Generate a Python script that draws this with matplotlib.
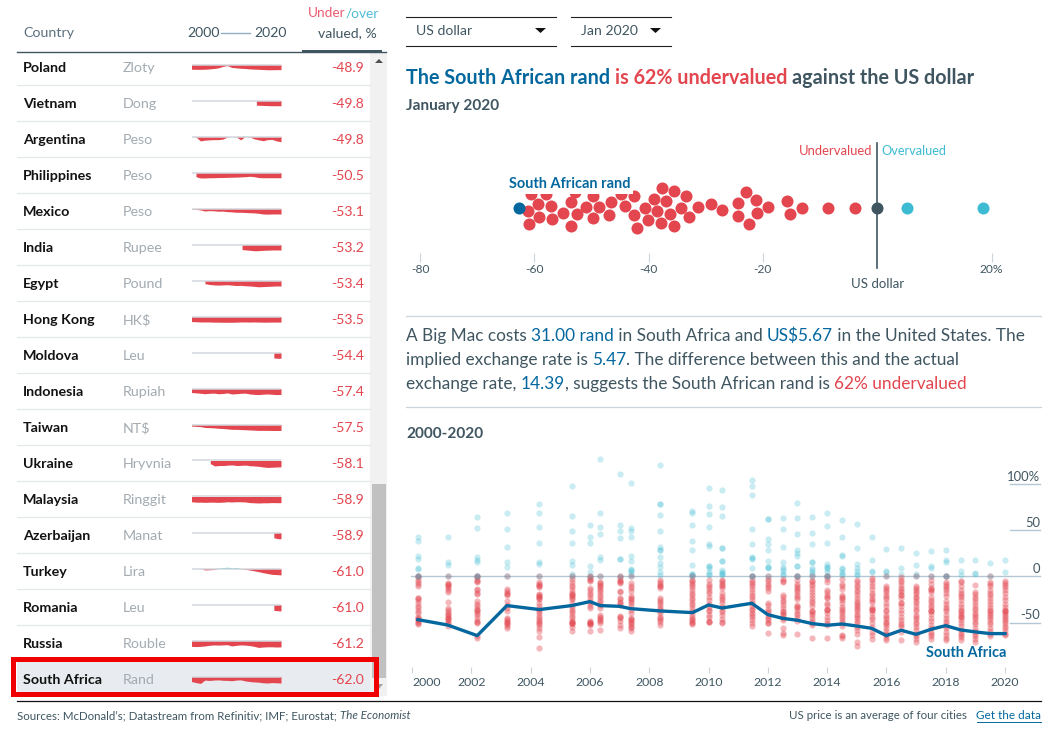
import numpy as np
import matplotlib
matplotlib.use("Agg")
import matplotlib.pyplot as plt
from matplotlib.patches import Rectangle, Polygon

plt.rcParams['font.family'] = ['Lato', 'DejaVu Sans']

RED = '#e3464f'
CYAN = '#3dbbd3'
BLUE = '#04689f'
DARK = '#3f5661'
GREY = '#a3abb1'
RULE = '#e4e8eb'

# table
countries = ['Poland', 'Vietnam', 'Argentina', 'Philippines', 'Mexico', 'India', 'Egypt', 'Hong Kong', 'Moldova',
             'Indonesia', 'Taiwan', 'Ukraine', 'Malaysia', 'Azerbaijan', 'Turkey', 'Romania', 'Russia', 'South Africa']
currencies = ['Zloty', 'Dong', 'Peso', 'Peso', 'Peso', 'Rupee', 'Pound', 'HK$', 'Leu',
              'Rupiah', 'NT$', 'Hryvnia', 'Ringgit', 'Manat', 'Lira', 'Leu', 'Rouble', 'Rand']
valuations = [-48.9, -49.8, -49.8, -50.5, -53.1, -53.2, -53.4, -53.5, -54.4,
              -57.4, -57.5, -58.1, -58.9, -58.9, -61.0, -61.0, -61.2, -62.0]

# first year of each small chart, then its values
spark_start = [2000, 2014.5, 2000, 2001, 2000, 2011.3, 2003, 2000, 2018.4,
               2000, 2000, 2004.2, 2000, 2018.4, 2000, 2018.4, 2000, 2000]
spark_values = [
    [-45, -46, -46, -45, -42, -38, -32, -18, -10, -28, -32, -36, -38, -42, -44, -46, -48, -50, -50, -49, -49],
    [-44, -46, -46, -48, -48, -50, -50, -50, -50, -50],
    [0, -5, -42, -35, -32, -30, -30, -25, -5, 0, -4, -32, 4, -5, -22, -32, -40, -30, -28, -42, -50],
    [-40, -52, -52, -50, -50, -48, -48, -46, -45, -44, -42, -40, -36, -40, -48, -50, -50, -50, -50, -50],
    [-5, -8, -14, -24, -20, -22, -26, -25, -30, -32, -36, -36, -38, -40, -42, -46, -52, -54, -52, -52, -53],
    [-48, -52, -56, -60, -58, -55, -54, -52, -52, -53],
    [-30, -38, -42, -44, -42, -40, -44, -48, -46, -50, -52, -56, -60, -58, -56, -54, -52, -53],
    [-48, -50, -52, -52, -52, -54, -54, -55, -55, -55, -54, -52, -52, -53, -52, -53, -54, -54, -53, -53, -53],
    [-52, -54, -55, -54],
    [-38, -42, -45, -50, -46, -44, -50, -48, -42, -52, -50, -46, -44, -52, -56, -58, -54, -52, -55, -58, -57],
    [-15, -18, -20, -28, -30, -32, -36, -38, -42, -46, -46, -48, -50, -52, -54, -56, -56, -56, -57, -57, -57],
    [-30, -52, -48, -48, -44, -42, -48, -46, -44, -50, -52, -56, -62, -66, -64, -62, -60],
    [-50, -54, -54, -56, -54, -54, -56, -54, -50, -52, -50, -50, -52, -58, -60, -62, -60, -60, -58, -59, -59],
    [-50, -55, -60, -59],
    [0, 0, 0, -14, -12, -10, 4, 8, 12, 6, 10, -3, -8, -14, -22, -30, -40, -48, -56, -58, -61],
    [-56, -58, -60, -61],
    [-56, -58, -56, -52, -46, -42, -44, -42, -40, -52, -46, -42, -44, -48, -56, -66, -62, -60, -60, -62, -61],
    [-48, -58, -66, -34, -38, -34, -32, -36, -37, -40, -34, -32, -42, -48, -52, -54, -60, -62, -58, -60, -62],
]

# swarm: percent against the dollar, with the row offset the dots got
swarm_under = [-60.6, -57.9, -52.9, -49.7, -44.9, -42.6, -37.7, -35.5, -33.4, -23.0, -59.3, -57.1, -53.6, -50.9,
               -48.6, -46.6, -44.1, -39.1, -36.9, -34.4, -31.4, -29.1, -27.1, -24.4, -21.2, -19.1, -15.7, -13.2,
               -8.6, -3.9, -61.1, -59.1, -56.9, -54.9, -52.6, -49.8, -46.9, -42.6, -40.7, -38.5, -36.3, -32.9,
               -24.3, -21.1, -15.2, -61.0, -53.5, -42.0, -40.1, -37.9, -35.6, -22.4]
swarm_under_row = [13.3, 13.7, 16, 12, 13.7, 12, 19.3, 16.3, 12, 15.3, 3.3, 1.7, 5.3, 1, 0.3, 5.7, 1.7, 8.7, 6.3, 0,
                   0.7, 3.3, -2.7, 4.7, 7.7, 1, 6.3, 0, 0, 0, -3.7, -9.7, -11, -5, -6.7, -10.3, -7.3, -7.7, 0, -3,
                   -6.3, -9.3, -8.3, -5, -6.3, -16.7, -18.7, -20, -12, -15.7, -18.7, -16]
swarm_over = [5.3, 18.5]
swarm_rand = -62.6

# South Africa through time
line_years = [2000.2, 2001.2, 2002.2, 2003.2, 2004.3, 2005.38, 2006.0, 2006.35, 2007.0, 2007.37, 2008.38, 2009.46,
              2010.0, 2010.46, 2011.46, 2012.0, 2012.5, 2013.0, 2013.5, 2014.0, 2014.5, 2015.0, 2015.5, 2016.0,
              2016.5, 2017.0, 2017.5, 2018.0, 2018.5, 2019.0, 2019.5, 2020.0]
line_values = [-46.9, -52.7, -64.2, -31.7, -36, -31.7, -27.4, -31.7, -32.5, -35, -37.5, -39.3, -31, -34.3, -29.2,
               -41.5, -45.5, -47.6, -51.2, -53, -51.6, -53.8, -56.3, -64.2, -58.4, -62.8, -57.4, -53.4, -58, -60.2,
               -62, -62]

# every currency at every survey date
all_values = [
    [42, 38, 22, 19, 9, 8, 0, 0, -1, -4, -6, -8, -11, -23, -24, -26, -29, -32, -34, -38, -40, -44, -45, -46, -47, -49, -50, -52],
    [43, 15, 12, 0, -7, -8, -9, -10, -13, -15, -17, -28, -34, -36, -39, -41, -42, -44, -45, -46, -47, -50, -51, -54],
    [64, 52, 21, 18, 16, 0, 0, -1, -4, -5, -6, -14, -15, -18, -19, -27, -30, -32, -35, -36, -38, -40, -42, -45, -48, -49, -50, -65, -67],
    [69, 51, 32, 16, 10, 0, -14, -16, -18, -19, -20, -27, -31, -34, -38, -45, -46, -48, -49, -50, -52, -54, -56],
    [78, 68, 53, 36, 16, 13, 0, -6, -8, -9, -10, -12, -19, -20, -21, -22, -24, -25, -29, -32, -35, -38, -40, -43, -45, -47, -49, -51, -53, -56, -59, -66, -78],
    [98, 65, 49, 36, 17, 12, 3, 0, -3, -6, -9, -12, -15, -18, -19, -20, -21, -23, -25, -29, -32, -35, -38, -40, -43, -45, -48, -49, -50, -51, -52, -55, -59],
    [56, 42, 36, 11, 5, 0, -1, -3, -4, -5, -13, -15, -18, -20, -24, -27, -29, -32, -34, -48, -49, -50, -51, -52, -53, -59],
    [127, 68, 53, 46, 21, 18, 0, -6, -7, -9, -11, -13, -15, -17, -20, -22, -26, -28, -31, -34, -42, -44, -45, -47, -48, -50, -58],
    [111, 56, 49, 41, 19, 19, 0, -1, -4, -5, -6, -7, -16, -17, -24, -25, -28, -29, -31, -43, -44, -45, -48, -53, -56],
    [101, 52, 49, 42, 22, 17, 8, 7, 6, 4, 0, -7, -10, -13, -16, -21, -23, -25, -27, -29, -32, -36, -40, -45, -46, -47, -49, -51, -53, -55, -56, -59],
    [120, 78, 78, 66, 49, 32, 29, 29, 21, 14, 10, 5, 1, -4, -6, -8, -10, -11, -13, -24, -26, -28, -30, -33, -35, -38, -40, -44, -45, -47, -49, -53],
    [71, 68, 55, 38, 29, 12, 3, 2, 1, 0, -4, -5, -7, -9, -12, -15, -18, -20, -23, -26, -29, -31, -34, -38, -41, -44, -46, -47, -49, -50, -52],
    [96, 76, 67, 53, 35, 33, 11, 11, 9, 5, 3, 1, -4, -8, -11, -13, -16, -18, -22, -26, -30, -33, -36, -38, -42, -44, -48, -49, -49],
    [93, 75, 65, 31, 31, 17, 17, 7, 5, 4, 2, 1, -4, -5, -7, -9, -11, -13, -18, -21, -23, -26, -29, -33, -36, -39, -42, -46, -49, -50],
    [104, 98, 88, 51, 35, 21, 20, 19, 9, 0, 0, -4, -6, -8, -11, -14, -17, -20, -22, -26, -29, -32, -35, -37, -40, -42, -44, -47, -51, -54],
    [62, 62, 40, 35, 28, 17, 10, 10, 9, 0, -3, -5, -8, -11, -13, -16, -29, -31, -35, -38, -40, -43, -45, -47, -50, -50, -61],
    [63, 51, 32, 15, 10, 8, 6, 3, 1, -3, -5, -6, -20, -22, -26, -28, -31, -34, -38, -39, -41, -42, -45, -47, -56, -61, -64],
    [79, 63, 46, 29, 25, 22, 11, 11, 0, 0, -4, -8, -11, -13, -15, -17, -20, -22, -25, -31, -33, -33, -36, -40, -42, -45, -48, -62],
    [64, 47, 35, 15, 15, 9, 7, 5, 2, 0, -5, -5, -8, -11, -14, -17, -20, -24, -27, -29, -32, -38, -38, -40, -42, -45, -48, -51, -53, -67],
    [68, 54, 36, 13, 10, 10, 8, 5, 0, 0, -3, -6, -15, -17, -20, -22, -24, -29, -31, -35, -36, -36, -40, -44, -47, -50, -53, -67],
    [61, 42, 23, 22, 9, 8, 5, 3, 1, -3, -8, -11, -14, -20, -22, -24, -26, -29, -33, -35, -38, -40, -43, -45, -48, -51, -54, -64, -65, -67],
    [57, 31, 13, 9, 6, 3, 1, -4, -6, -9, -12, -15, -17, -20, -24, -27, -29, -31, -33, -35, -38, -41, -43, -45, -48, -50, -55, -58, -62, -71, -75],
    [42, 18, 6, 5, -2, -4, -7, -11, -14, -18, -20, -23, -26, -28, -33, -35, -36, -37, -40, -44, -46, -50, -55, -60, -63, -68],
    [30, 6, 5, 0, -11, -13, -15, -17, -20, -22, -25, -29, -32, -36, -38, -42, -44, -46, -49, -51, -53, -56, -59, -62, -64, -67, -69],
    [31, 9, 3, -1, -4, -6, -9, -13, -15, -17, -20, -20, -23, -29, -29, -32, -36, -40, -44, -47, -50, -53, -55, -60, -69],
    [25, 12, 3, 0, -11, -13, -15, -17, -19, -22, -24, -27, -29, -32, -35, -38, -42, -44, -46, -49, -52, -55, -58, -62, -65, -68, -71],
    [27, 11, 9, 0, -4, -8, -13, -14, -15, -17, -22, -26, -28, -31, -33, -36, -38, -38, -41, -45, -48, -53, -56, -60, -62, -65, -68],
    [28, 18, 15, 0, 0, -6, -8, -10, -13, -15, -18, -21, -27, -30, -33, -35, -38, -42, -45, -48, -51, -54, -56, -60, -64, -67, -69],
    [18, 6, 1, -5, -6, -10, -15, -18, -20, -22, -26, -30, -33, -36, -38, -40, -42, -44, -44, -47, -51, -54, -58, -61, -64, -66, -69],
    [18, 4, 3, -9, -17, -19, -22, -25, -28, -31, -34, -37, -40, -42, -44, -46, -49, -52, -56, -59, -62, -65, -68, -71],
    [14, 0, -6, -8, -11, -15, -18, -20, -23, -27, -30, -33, -36, -38, -40, -42, -44, -46, -49, -52, -56, -59, -62, -65],
    [18, 5, -5, -7, -9, -12, -15, -18, -22, -26, -30, -33, -36, -38, -38, -40, -42, -44, -46, -48, -51, -54, -56, -59, -62, -64],
]

x_ticks = list(range(2000, 2021, 2))
y_ticks = [100, 50, 0, -50]
y_tick_labels = ['100%', '50', '0', '-50']
swarm_ticks = [-80, -60, -40, -20, 20]
swarm_tick_labels = ['-80', '-60', '-40', '-20', '20%']

W, H = 1061, 733
fig = plt.figure(figsize=(W / 100, H / 100), dpi=100, facecolor='white')


def box(x0, y0, x1, y1):
    # pixel box, top-left origin, to figure fractions
    return [x0 / W, 1 - y1 / H, (x1 - x0) / W, (y1 - y0) / H]


ov = fig.add_axes([0, 0, 1, 1], zorder=0)
ov.set_xlim(0, W)
ov.set_ylim(H, 0)
ov.axis('off')
renderer = fig.canvas.get_renderer()


def pts(px):
    return px * 0.72


def seg(x, y, parts, size, weight='normal'):
    # coloured runs of text on one line
    for part in parts:
        s, c = part[0], part[1]
        style = part[2] if len(part) > 2 else 'normal'
        t = ov.text(x, y, s, color=c, fontsize=pts(size), fontweight=weight, style=style, va='center', ha='left')
        x = t.get_window_extent(renderer).x1
    return x


# table header
ov.text(23, 33, 'Country', color='#5d727e', fontsize=pts(14.3), va='center')
ov.text(187, 33, '2000', color=DARK, fontsize=pts(14), va='center')
ov.plot([221, 250], [32.5, 32.5], color='#8fb0c2', lw=1)
ov.text(254, 33, '2020', color=DARK, fontsize=pts(14), va='center')
seg(308, 13, [('Under', '#ee5a6f'), ('/over', '#4dbdd6')], 13.6)
ov.text(377, 33, 'valued, %', color=DARK, fontsize=pts(14), va='center', ha='right')
ov.plot([17, 386], [51.5, 51.5], color=DARK, lw=1)
ov.add_patch(Rectangle((302, 49.5), 80, 2.5, color=DARK, lw=0))

# scrollbar
ov.add_patch(Rectangle((370, 52), 17, 644, color='#f1f1f1', lw=0))
ov.add_patch(Rectangle((372, 484), 13.5, 194, color='#c1c1c1', lw=0))
ov.add_patch(Polygon([[375, 63], [383, 63], [379, 59]], color='#505050', lw=0))
ov.add_patch(Polygon([[375, 684], [383, 684], [379, 689]], color='#a3a3a3', lw=0))

# rows
for i, name in enumerate(countries):
    yc = 67 + 36 * i
    if name == 'South Africa':
        ov.add_patch(Rectangle((17, yc - 18), 353, 36, color='#e8ebef', lw=0))
    else:
        ov.plot([17, 370], [yc + 18, yc + 18], color=RULE, lw=0.9)
    ov.text(23, yc + 1, name, color='#121212', fontsize=pts(14.2), fontweight='bold', va='center')
    ov.text(123, yc + 1, currencies[i], color=GREY, fontsize=pts(14.2), va='center')
    ov.text(364, yc + 1, '%.1f' % valuations[i], color=RED, fontsize=pts(14), va='center', ha='right')

    base = yc - 2.5
    sp = fig.add_axes(box(191.5, base - 6, 281, base + 8), zorder=1)
    sp.patch.set_alpha(0)
    sp.set_xlim(2000, 2020)
    sp.set_ylim(-8 / 0.105, 6 / 0.105)
    sp.axis('off')
    sp.axhline(0, color='#d3d9de', lw=1.1)
    vals = np.array(spark_values[i], dtype=float)
    xs = np.linspace(spark_start[i], 2020, len(vals))
    sp.fill_between(xs, 0, np.minimum(vals, 0), color=RED, lw=0)
    sp.fill_between(xs, 0, np.maximum(vals, 0), color=CYAN, lw=0)

ov.add_patch(Rectangle((13, 658.5), 362.5, 35, fill=False, edgecolor='#f00000', lw=3.6, zorder=5))

# dropdowns
for x0, x1, label in [(406, 556, 'US dollar'), (571, 671, 'Jan 2020')]:
    ov.plot([x0, x1], [17, 17], color='#222222', lw=0.8)
    ov.plot([x0, x1], [46, 46], color='#222222', lw=0.8)
    ov.text(x0 + 10, 31, label, color=DARK, fontsize=pts(14), va='center')
    ov.add_patch(Polygon([[x1 - 21, 28], [x1 - 10, 28], [x1 - 15.5, 33]], color='#111111', lw=0))

# headline
seg(406, 78, [('The South African rand ', BLUE), ('is 62% undervalued ', RED), ('against the US dollar', DARK)], 19.8, 'bold')
ov.text(406, 106, 'January 2020', color=DARK, fontsize=pts(15.4), fontweight='bold', va='center')

# swarm panel
cy = 207.7
ax = fig.add_axes(box(420, 140, 991.5, 253), zorder=2)
ax.patch.set_alpha(0)
ax.set_xlim(-80, 20)
ax.set_ylim(-(253 - cy), cy - 140)
for s in ax.spines.values():
    s.set_visible(False)
ax.set_yticks([])
ax.set_xticks(swarm_ticks)
ax.set_xticklabels(swarm_tick_labels, color=DARK, fontsize=pts(12))
ax.tick_params(axis='x', length=6.5, width=0.8, color='#ccd5dc', pad=1.5)
ax.plot([0, 0], [cy - 268, cy - 143], color=DARK, lw=1.2, clip_on=False, zorder=1)
ax.scatter(swarm_under, swarm_under_row, s=75, color=RED, lw=0, clip_on=False, zorder=2)
ax.scatter(swarm_over, [0, 0], s=75, color=CYAN, lw=0, clip_on=False, zorder=2)
ax.scatter([0], [0], s=75, color=DARK, lw=0, clip_on=False, zorder=3)
ax.scatter([swarm_rand], [0], s=75, color=BLUE, lw=0, clip_on=False, zorder=3)
ax.text(-64.4, cy - 184.5, 'South African rand', color=BLUE, fontsize=pts(14.5), fontweight='bold', va='center', zorder=4,
        bbox=dict(facecolor='white', edgecolor='none', pad=1.5))
ax.text(-0.8, cy - 151, 'Undervalued', color=RED, fontsize=pts(13), ha='right', va='center')
ax.text(0.8, cy - 151, 'Overvalued', color=CYAN, fontsize=pts(12.8), ha='left', va='center')
ax.text(0, cy - 284, 'US dollar', color=DARK, fontsize=pts(13.3), ha='center', va='center')

# explanation
ov.plot([406, 1041], [316, 316], color='#cbd5dc', lw=0.9)
ov.plot([406, 1041], [407, 407], color='#cbd5dc', lw=0.9)
seg(406, 336, [('A Big Mac costs ', DARK), ('31.00 rand', BLUE), (' in South Africa and ', DARK), ('US$5.67', BLUE),
               (' in the United States. The', DARK)], 17.3)
seg(406, 360, [('implied exchange rate is ', DARK), ('5.47', BLUE), ('. The difference between this and the actual', DARK)], 17.3)
seg(406, 384, [('exchange rate, ', DARK), ('14.39', BLUE), (', suggests the South African rand is ', DARK),
               ('62% undervalued', RED)], 17.3)
ov.text(406, 434, '2000-2020', color=DARK, fontsize=pts(15.4), fontweight='bold', va='center')

# history panel
y0_px, px_per = 576.3, 0.924
bx = fig.add_axes(box(412, 440, 1005, 667), zorder=2)
bx.patch.set_alpha(0)
bx.set_xlim(2000, 2020)
bx.set_ylim((y0_px - 667) / px_per, (y0_px - 440) / px_per)
for s in bx.spines.values():
    s.set_visible(False)
bx.set_yticks([])
bx.set_xticks(x_ticks)
bx.set_xticklabels([str(y) for y in x_ticks], color=DARK, fontsize=pts(12.3))
bx.get_xticklabels()[0].set_ha('left')
bx.tick_params(axis='x', length=4.5, width=0.8, color='#ccd5dc', pad=2.5)
x_end = 2000 + (1040 - 412) / 29.65
x_grid = 2000 + (1010 - 412) / 29.65
for val, lab in zip(y_ticks, y_tick_labels):
    x_from = 1999.95 if val == 0 else x_grid
    bx.plot([x_from, x_end], [val, val], color='#b3c7d4', lw=1, clip_on=False, zorder=1)
    bx.text(x_end, val + 1.5, lab, color=DARK, fontsize=pts(13), ha='right', va='bottom')
for yr, vals in zip(line_years, all_values):
    vals = np.array(vals)
    bx.scatter([yr] * int((vals > 0).sum()), vals[vals > 0], s=20, color=CYAN, alpha=0.28, lw=0, clip_on=False, zorder=2)
    bx.scatter([yr] * int((vals <= 0).sum()), vals[vals <= 0], s=20, color=RED, alpha=0.38, lw=0, clip_on=False, zorder=2)
    bx.scatter([yr] * int((vals == 0).sum()), vals[vals == 0], s=20, color=CYAN, alpha=0.28, lw=0, clip_on=False, zorder=2)
bx.plot(line_years, line_values, color=BLUE, lw=2.4, solid_joinstyle='round', clip_on=False, zorder=3)
bx.text(2020.03, -83, 'South Africa', color=BLUE, fontsize=pts(14.5), fontweight='bold', ha='right', va='center')

# footer
ov.plot([17, 1041], [701, 701], color='#111111', lw=0.9)
seg(17, 715.5, [('Sources: McDonald’s; Datastream from Refinitiv; IMF; Eurostat; ', DARK), ('The Economist', DARK, 'italic')], 11.55)
ov.text(967, 715.5, 'US price is an average of four cities', color=DARK, fontsize=pts(11.55), ha='right', va='center')
ov.text(1041, 715.5, 'Get the data', color=BLUE, fontsize=pts(11.8), ha='right', va='center')
ov.plot([977, 1041], [721.5, 721.5], color=BLUE, lw=0.7)

fig.savefig('out.png', dpi=100)
